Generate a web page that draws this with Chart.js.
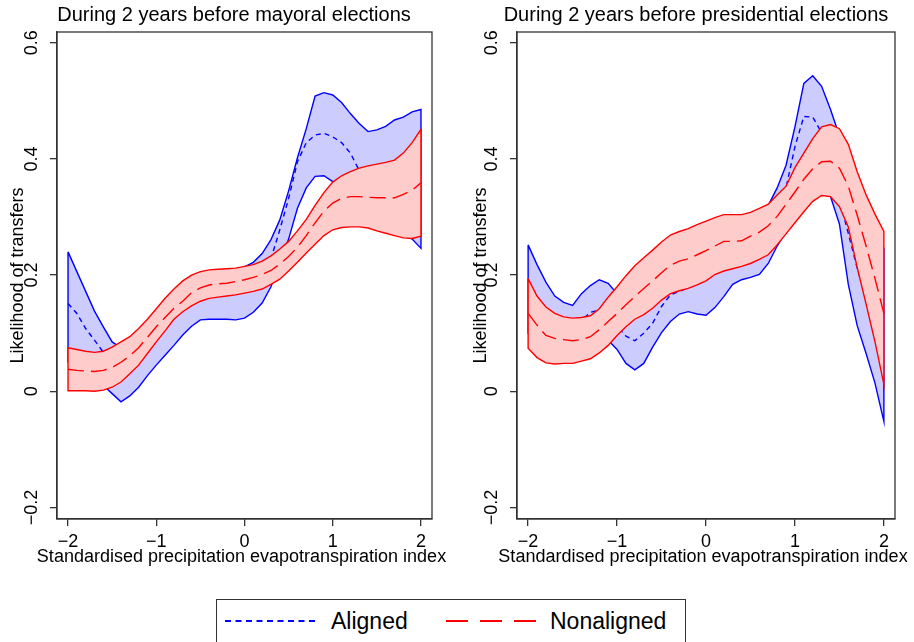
<!DOCTYPE html>
<html>
<head>
<meta charset="utf-8">
<script src="https://cdn.jsdelivr.net/npm/chart.js@4.4.0/dist/chart.umd.min.js"></script>
<style>
    body { margin: 0; width: 914px; height: 642px; overflow: hidden; background: #fff; position: relative; font-family: 'Liberation Sans', Arial, sans-serif; }
    .panel { position: absolute; top: 0; height: 580px; }
    #left { left: 0; width: 468px; }
    #right { left: 466px; width: 460px; }
    .legend-box { position: absolute; left: 216px; top: 599px; width: 468px; height: 60px; border: 1.5px solid #333; }
    .legend-line { position: absolute; top: 619px; }
    .legend-text { position: absolute; top: 610px; font-size: 23px; line-height: 23px; color: #000; }
</style>
</head>
<body>
<div class="panel" id="left"><canvas id="chartMayor"></canvas></div>
<div class="panel" id="right"><canvas id="chartPres"></canvas></div>

<div class="legend-box"></div>
<svg class="legend-line" style="left:225px" width="90" height="4"><line x1="0" y1="2" x2="90" y2="2" stroke="#0000ff" stroke-width="2" stroke-dasharray="6 4.5"/></svg>
<span class="legend-text" style="left:331px">Aligned</span>
<svg class="legend-line" style="left:446px" width="90" height="4"><line x1="0" y1="2" x2="90" y2="2" stroke="#ff0000" stroke-width="2" stroke-dasharray="22 12"/></svg>
<span class="legend-text" style="left:550px">Nonaligned</span>

<script>
'use strict'

// x grid (SPEI)
const xValues = [-2, -1.9, -1.8, -1.7, -1.6, -1.5, -1.4, -1.3, -1.2, -1.1, -1, -0.9, -0.8, -0.7, -0.6, -0.5, -0.4, -0.3, -0.2, -0.1,
    0, 0.1, 0.2, 0.3, 0.4, 0.5, 0.6, 0.7, 0.8, 0.9, 1, 1.1, 1.2, 1.3, 1.4, 1.5, 1.6, 1.7, 1.8, 1.9, 2]

// mayoral elections
const mayorAlignedLow = [0.050, 0.040, 0.030, 0.020, 0.010, -0.004, -0.018, -0.008, 0.007, 0.027, 0.045, 0.062, 0.079, 0.097, 0.112, 0.123, 0.124, 0.124, 0.124, 0.123,
    0.126, 0.136, 0.152, 0.180, 0.222, 0.262, 0.315, 0.350, 0.370, 0.371, 0.361, 0.350, 0.340, 0.330, 0.318, 0.305, 0.293, 0.282, 0.272, 0.262, 0.246]
const mayorAlignedMid = [0.151, 0.134, 0.108, 0.088, 0.067, 0.055, 0.047, 0.045, 0.050, 0.068, 0.088, 0.108, 0.128, 0.145, 0.158, 0.165, 0.167, 0.168, 0.168, 0.168,
    0.170, 0.180, 0.198, 0.228, 0.278, 0.332, 0.395, 0.428, 0.441, 0.444, 0.438, 0.428, 0.410, 0.380, 0.368, 0.360, 0.358, 0.360, 0.363, 0.366, 0.366]
const mayorAlignedHigh = [0.240, 0.206, 0.172, 0.138, 0.111, 0.085, 0.075, 0.085, 0.100, 0.115, 0.130, 0.145, 0.160, 0.175, 0.190, 0.198, 0.202, 0.204, 0.206, 0.208,
    0.214, 0.222, 0.237, 0.261, 0.295, 0.345, 0.402, 0.452, 0.508, 0.514, 0.510, 0.497, 0.478, 0.461, 0.447, 0.450, 0.456, 0.467, 0.472, 0.481, 0.485]
const mayorNonLow = [0.001, 0.001, 0.001, 0.000, 0.002, 0.007, 0.016, 0.030, 0.045, 0.065, 0.085, 0.104, 0.124, 0.137, 0.147, 0.155, 0.160, 0.162, 0.164, 0.166,
    0.169, 0.172, 0.176, 0.184, 0.193, 0.207, 0.222, 0.238, 0.253, 0.268, 0.278, 0.282, 0.283, 0.283, 0.281, 0.276, 0.272, 0.268, 0.264, 0.263, 0.267]
const mayorNonMid = [0.038, 0.036, 0.035, 0.034, 0.036, 0.041, 0.050, 0.061, 0.075, 0.093, 0.111, 0.127, 0.143, 0.155, 0.170, 0.178, 0.183, 0.185, 0.186, 0.189,
    0.192, 0.196, 0.201, 0.208, 0.219, 0.232, 0.248, 0.268, 0.290, 0.310, 0.324, 0.332, 0.335, 0.335, 0.334, 0.333, 0.333, 0.333, 0.339, 0.346, 0.359]
const mayorNonHigh = [0.075, 0.072, 0.069, 0.067, 0.069, 0.076, 0.085, 0.094, 0.108, 0.124, 0.142, 0.160, 0.176, 0.190, 0.200, 0.206, 0.209, 0.210, 0.211, 0.212,
    0.215, 0.218, 0.224, 0.233, 0.245, 0.258, 0.276, 0.296, 0.320, 0.342, 0.360, 0.371, 0.378, 0.384, 0.388, 0.391, 0.394, 0.398, 0.410, 0.428, 0.451]

// presidential elections
const presAlignedLow = [0.100, 0.095, 0.090, 0.085, 0.082, 0.080, 0.080, 0.082, 0.085, 0.088, 0.072, 0.048, 0.037, 0.048, 0.076, 0.101, 0.120, 0.133, 0.137, 0.133,
    0.131, 0.144, 0.163, 0.184, 0.192, 0.196, 0.201, 0.220, 0.250, 0.275, 0.300, 0.320, 0.335, 0.340, 0.335, 0.288, 0.184, 0.113, 0.065, 0.014, -0.052]
const presAlignedMid = [0.171, 0.150, 0.132, 0.120, 0.115, 0.115, 0.122, 0.136, 0.140, 0.130, 0.112, 0.095, 0.087, 0.100, 0.117, 0.146, 0.166, 0.172, 0.178, 0.184,
    0.191, 0.202, 0.212, 0.228, 0.245, 0.262, 0.285, 0.310, 0.335, 0.350, 0.421, 0.473, 0.472, 0.445, 0.400, 0.330, 0.272, 0.212, 0.160, 0.125, 0.097]
const presAlignedHigh = [0.252, 0.218, 0.188, 0.164, 0.153, 0.148, 0.168, 0.182, 0.192, 0.186, 0.168, 0.175, 0.188, 0.200, 0.215, 0.228, 0.238, 0.245, 0.252, 0.258,
    0.262, 0.270, 0.280, 0.290, 0.298, 0.303, 0.312, 0.320, 0.350, 0.389, 0.455, 0.530, 0.543, 0.525, 0.485, 0.440, 0.390, 0.340, 0.300, 0.270, 0.246]
const presNonLow = [0.074, 0.058, 0.049, 0.047, 0.048, 0.048, 0.052, 0.056, 0.066, 0.079, 0.096, 0.111, 0.124, 0.132, 0.143, 0.157, 0.168, 0.173, 0.177, 0.183,
    0.190, 0.201, 0.207, 0.211, 0.215, 0.220, 0.227, 0.235, 0.252, 0.271, 0.290, 0.309, 0.327, 0.337, 0.335, 0.318, 0.283, 0.213, 0.150, 0.085, 0.012]
const presNonMid = [0.134, 0.114, 0.096, 0.091, 0.089, 0.087, 0.089, 0.094, 0.106, 0.120, 0.134, 0.149, 0.163, 0.177, 0.190, 0.204, 0.217, 0.224, 0.228, 0.235,
    0.242, 0.250, 0.258, 0.258, 0.259, 0.267, 0.274, 0.285, 0.301, 0.322, 0.343, 0.365, 0.383, 0.395, 0.396, 0.384, 0.353, 0.303, 0.250, 0.194, 0.134]
const presNonHigh = [0.194, 0.164, 0.145, 0.134, 0.128, 0.126, 0.127, 0.130, 0.142, 0.162, 0.180, 0.199, 0.216, 0.230, 0.243, 0.257, 0.269, 0.275, 0.280, 0.287,
    0.293, 0.299, 0.304, 0.304, 0.304, 0.308, 0.315, 0.322, 0.338, 0.353, 0.385, 0.410, 0.435, 0.455, 0.459, 0.452, 0.425, 0.378, 0.338, 0.305, 0.275]

const xTicks = [-2, -1, 0, 1, 2]
const yTicks = [-0.2, 0, 0.2, 0.4, 0.6]
const xTitle = 'Standardised precipitation evapotranspiration index'

Chart.defaults.font.family = "'Liberation Sans', Arial, sans-serif"
Chart.defaults.color = '#000'

const framePlugin = {
    id: 'frame',
    afterDatasetsDraw(chart) {
        const { ctx, chartArea: a } = chart
        ctx.save()
        ctx.strokeStyle = '#333'
        ctx.lineWidth = 1.3
        ctx.strokeRect(a.left, a.top, a.right - a.left, a.bottom - a.top)
        ctx.restore()
    }
}

// x axis title may run wider than the plot, so draw it without the scale's maxWidth squeeze
const xTitlePlugin = {
    id: 'xTitle',
    afterDraw(chart) {
        const { ctx, chartArea: a } = chart
        ctx.save()
        ctx.font = "18px 'Liberation Sans', Arial, sans-serif"
        ctx.fillStyle = '#000'
        ctx.textAlign = 'center'
        ctx.textBaseline = 'middle'
        ctx.fillText(xTitle, (a.left + a.right) / 2 - 3, a.bottom + 38.5)
        ctx.restore()
    }
}

function toPoints(ys) {
    return ys.map((y, i) => ({ x: xValues[i], y }))
}

// closed outline: upper bound forward, lower bound back
function toBand(lows, highs) {
    const pts = toPoints(highs).concat(toPoints(lows).reverse())
    pts.push({ x: xValues[0], y: highs[0] })
    return pts
}

function fmtTick(val) {
    const v = Math.round(val * 10) / 10
    return String(v).replace('-', '\u2212')
}

function renderPanel(id, title, series, opts) {
    const ctx = document.getElementById(id)
    return new Chart(ctx, {
        type: 'line',
        data: {
            datasets: [{
                data: toBand(series.alignedLow, series.alignedHigh),
                borderColor: '#0000ff',
                backgroundColor: '#ccccff',
                borderWidth: 1.4,
                fill: 'shape',
                order: 4
            }, {
                data: toPoints(series.alignedMid),
                borderColor: '#0000ff',
                borderWidth: 1.4,
                borderDash: [5, 4],
                fill: false,
                order: 3
            }, {
                data: toBand(series.nonLow, series.nonHigh),
                borderColor: '#ff0000',
                backgroundColor: '#ffcccc',
                borderWidth: 1.4,
                fill: 'shape',
                order: 2
            }, {
                data: toPoints(series.nonMid),
                borderColor: '#ff0000',
                borderWidth: 1.4,
                borderDash: [16, 7],
                fill: false,
                order: 1
            }]
        },
        options: {
            responsive: true,
            maintainAspectRatio: false,
            animation: false,
            events: [],
            elements: { point: { radius: 0 }, line: { tension: 0 } },
            layout: { padding: 0 },
            plugins: {
                legend: { display: false },
                tooltip: { enabled: false },
                filler: { drawTime: 'beforeDatasetDraw' },
                title: {
                    display: true,
                    text: title,
                    font: { size: 20, weight: 'normal' },
                    color: '#000',
                    padding: { top: 3.3, bottom: 4.7 }
                }
            },
            scales: {
                x: {
                    type: 'linear',
                    min: -2.125,
                    max: 2.125,
                    afterBuildTicks: scale => { scale.ticks = xTicks.map(v => ({ value: v })) },
                    ticks: { padding: 5, font: { size: 18 }, color: '#000', maxRotation: 0, autoSkip: false, callback: fmtTick },
                    grid: { drawOnChartArea: false, tickLength: 7, color: '#333', lineWidth: 1.3 },
                    border: { display: true, color: '#333', width: 1.3 },
                    title: { display: false },
                    afterFit: scale => { scale.height = 61 }
                },
                y: {
                    type: 'linear',
                    min: -0.2198,
                    max: 0.6184,
                    afterBuildTicks: scale => { scale.ticks = yTicks.map(v => ({ value: v })) },
                    ticks: { padding: 0, font: { size: 18 }, color: '#000', minRotation: 90, maxRotation: 90, crossAlign: 'center', autoSkip: false, callback: fmtTick },
                    grid: { drawOnChartArea: false, tickLength: 7, color: '#333', lineWidth: 1.3 },
                    border: { display: true, color: '#333', width: 1.3 },
                    title: {
                        display: true,
                        text: 'Likelihood of transfers',
                        font: { size: 18 },
                        color: '#000',
                        padding: { top: opts.yTitlePad, bottom: 0 }
                    },
                    afterFit: scale => { scale.width = opts.yWidth }
                },
                y2: {
                    type: 'linear',
                    position: 'right',
                    ticks: { display: false },
                    grid: { display: false },
                    border: { display: false },
                    afterFit: scale => { scale.width = opts.rightWidth }
                }
            }
        },
        plugins: [framePlugin, xTitlePlugin]
    })
}

renderPanel('chartMayor', 'During 2 years before mayoral elections', {
    alignedLow: mayorAlignedLow, alignedMid: mayorAlignedMid, alignedHigh: mayorAlignedHigh,
    nonLow: mayorNonLow, nonMid: mayorNonMid, nonHigh: mayorNonHigh
}, { yWidth: 57, rightWidth: 36, yTitlePad: 7.2 })

renderPanel('chartPres', 'During 2 years before presidential elections', {
    alignedLow: presAlignedLow, alignedMid: presAlignedMid, alignedHigh: presAlignedHigh,
    nonLow: presNonLow, nonMid: presNonMid, nonHigh: presNonHigh
}, { yWidth: 51, rightWidth: 31, yTitlePad: 4.2 })
</script>
</body>
</html>
